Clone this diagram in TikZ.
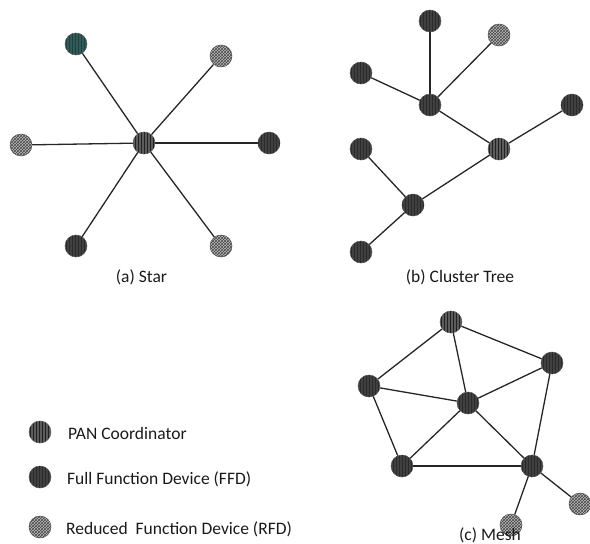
\documentclass[tikz,border=0pt]{standalone}
\usepackage{fontspec}
\setmainfont{Carlito}
\usetikzlibrary{patterns,backgrounds}
\definecolor{ffdfill}{HTML}{404040}
\definecolor{ffdline}{HTML}{2B2B2B}
\definecolor{panfill}{HTML}{5C5C5C}
\definecolor{panline}{HTML}{222222}
\definecolor{rfdfill}{HTML}{BDBDBD}
\definecolor{rfdline}{HTML}{454545}
\definecolor{tealfill}{HTML}{2F5C58}
\definecolor{labelcol}{HTML}{1A1A1A}
\tikzset{
  dev/.style={circle, inner sep=0pt, minimum size=22pt, draw=gray!70!black, line width=0.5pt},
  ffd/.style={dev, fill=ffdfill, postaction={pattern=vertical lines, pattern color=ffdline}},
  pan/.style={dev, fill=panfill, postaction={pattern=vertical lines, pattern color=panline}},
  rfd/.style={dev, fill=rfdfill, postaction={pattern=crosshatch, pattern color=rfdline}},
  tealdev/.style={dev, fill=tealfill, postaction={pattern=vertical lines, pattern color=tealfill!70!black}},
  link/.style={draw=black!85, line width=1.3pt},
  lbl/.style={font=\fontsize{17.5}{20}\selectfont, text=labelcol, inner sep=0pt}
}
\begin{document}
\begin{tikzpicture}[x=1pt,y=-1pt]
\useasboundingbox (0,0) rectangle (590,544);
% ---- Star ----
\node[pan] (sc) at (144,143) {};
\node[tealdev] (s1) at (76,44) {};
\node[rfd] (s2) at (221,56) {};
\node[rfd] (s3) at (21,145) {};
\node[ffd] (s4) at (269,143) {};
\node[ffd] (s5) at (76,246) {};
\node[rfd] (s6) at (221,246) {};
\node[lbl, anchor=base] (la) at (141.5,282) {(a) Star};
% ---- Cluster tree ----
\node[ffd] (t1) at (430,21) {};
\node[rfd] (t2) at (499,35) {};
\node[ffd] (t3) at (361,73) {};
\node[ffd] (t4) at (430,105) {};
\node[ffd] (t5) at (572,105) {};
\node[pan] (t6) at (499,149) {};
\node[ffd] (t7) at (361,149) {};
\node[ffd] (t8) at (413,205) {};
\node[ffd] (t9) at (361,252) {};
\node[lbl, anchor=base] (lb) at (460,282) {(b) Cluster Tree};
% ---- Mesh ----
\node[pan] (m1) at (451,322) {};
\node[ffd] (m2) at (552,363) {};
\node[ffd] (m3) at (369,386) {};
\node[ffd] (m4) at (468,403) {};
\node[ffd] (m5) at (402,466) {};
\node[ffd] (m6) at (532,466) {};
\node[rfd] (m7) at (580,504) {};
\node[rfd] (m8) at (511,525) {};
\node[lbl, anchor=base] (lc) at (490,540) {(c) Mesh};
% ---- Legend ----
\node[pan] (g1) at (40,432) {};
\node[ffd] (g2) at (40,477) {};
\node[rfd] (g3) at (40,527) {};
\node[lbl, anchor=west] (gt1) at (68,433) {PAN Coordinator};
\node[lbl, anchor=west] (gt2) at (67,479) {Full Function Device (FFD)};
\node[lbl, anchor=west] (gt3) at (66,529) {Reduced\ \ Function Device (RFD)};
% ---- Links ----
\begin{scope}[on background layer]
\foreach \n in {s1,s2,s3,s4,s5,s6} \draw[link] (sc) -- (\n);
\draw[link] (t1) -- (t4);
\draw[link] (t2) -- (t4);
\draw[link] (t3) -- (t4);
\draw[link] (t4) -- (t6);
\draw[link] (t5) -- (t6);
\draw[link] (t6) -- (t8);
\draw[link] (t7) -- (t8);
\draw[link] (t8) -- (t9);
\draw[link] (m1) -- (m3);
\draw[link] (m1) -- (m4);
\draw[link] (m1) -- (m2);
\draw[link] (m3) -- (m4);
\draw[link] (m3) -- (m5);
\draw[link] (m4) -- (m2);
\draw[link] (m4) -- (m5);
\draw[link] (m4) -- (m6);
\draw[link] (m5) -- (m6);
\draw[link] (m2) -- (m6);
\draw[link] (m6) -- (m7);
\draw[link] (m6) -- (m8);
\end{scope}
\end{tikzpicture}
\end{document}
